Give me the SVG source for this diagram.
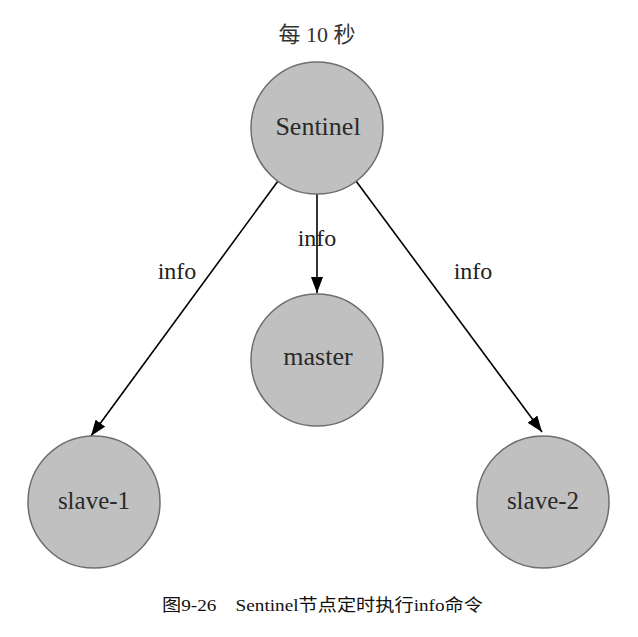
<svg xmlns="http://www.w3.org/2000/svg" width="638" height="637" viewBox="0 0 638 637">
<style>
.node{fill:#c0c0c0;stroke:#6e6e6e;stroke-width:1.5}
.lbl{font-family:"Liberation Serif",serif;font-size:25px;fill:#2a2a2a;text-anchor:middle}
.edge{stroke:#000;stroke-width:1.6;fill:none}
.elbl{font-family:"Liberation Serif",serif;font-size:24px;fill:#222;text-anchor:middle}
.cap{font-family:"Liberation Serif","Noto Sans CJK SC",serif;font-size:17px;fill:#111}
</style>
<defs>
<marker id="arr" markerUnits="userSpaceOnUse" markerWidth="16" markerHeight="12" refX="16" refY="6" orient="auto" viewBox="0 0 16 12">
<path d="M0,0 L16,6 L0,12 z" fill="#000"/>
</marker>
</defs>
<rect width="638" height="637" fill="#fff"/>
<text x="317" y="42" class="cap" style="font-size:22px;fill:#333;font-family:'Liberation Serif','Noto Sans CJK SC',serif" text-anchor="middle">每 10 秒</text>
<g id="connectors">
<line class="edge" x1="278" y1="181" x2="91" y2="436" marker-end="url(#arr)"/>
<line class="edge" x1="317" y1="194" x2="317" y2="293" marker-end="url(#arr)"/>
<line class="edge" x1="356" y1="181" x2="542" y2="432" marker-end="url(#arr)"/>
<text class="elbl" x="177" y="279">info</text>
<text class="elbl" x="317" y="246">info</text>
<text class="elbl" x="473" y="279">info</text>
</g>
<g id="sentinel">
<circle class="node" cx="317" cy="128" r="66"/>
<text class="lbl" x="318" y="135" style="font-size:26px">Sentinel</text>
</g>
<g id="master">
<circle class="node" cx="317" cy="360" r="66"/>
<text class="lbl" x="318" y="365" style="font-size:26px">master</text>
</g>
<g id="slave-1">
<circle class="node" cx="94" cy="502" r="66"/>
<text class="lbl" x="94" y="509">slave-1</text>
</g>
<g id="slave-2">
<circle class="node" cx="543" cy="502" r="66"/>
<text class="lbl" x="543" y="509">slave-2</text>
</g>
<text class="cap" x="162" y="611" textLength="321" lengthAdjust="spacingAndGlyphs">图9-26　Sentinel节点定时执行info命令</text>
</svg>
